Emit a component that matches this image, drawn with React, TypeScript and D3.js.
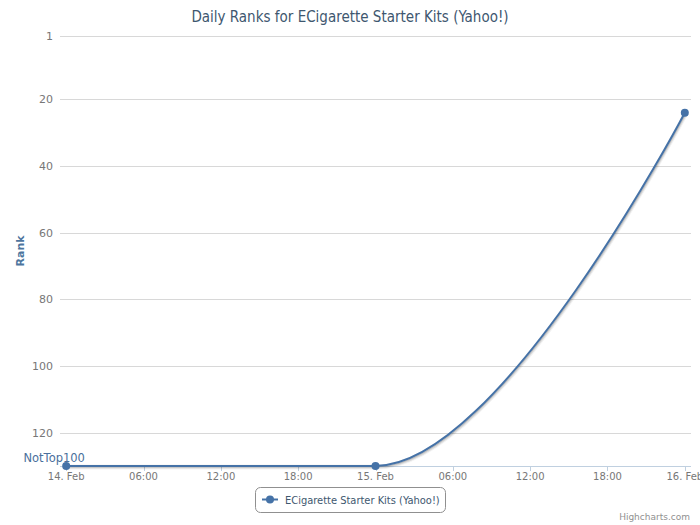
import React from "react";
import * as d3 from "d3";

// ---- data ----
const dates: string[] = ["2013-02-14", "2013-02-15", "2013-02-16"];
const ranks: number[] = [130, 130, 24]; // 130 = not in top 100
const yTicks: number[] = [1, 20, 40, 60, 80, 100, 120];
const yDomain: number[] = [1, 130];
const notTopLabel = "NotTop100";
const seriesName = "ECigarette Starter Kits (Yahoo!)";
const titleText = "Daily Ranks for ECigarette Starter Kits (Yahoo!)";
const yTitle = "Rank";
const credits = "Highcharts.com";

const W = 700;
const H = 525;
const plot = { left: 60, right: 691, top: 36, bottom: 466 };
const COLOR = "#4572A7";
const FONT = "'DejaVu Sans', Verdana, sans-serif";
const CFONT = "'DejaVu Sans Condensed', 'DejaVu Sans', sans-serif";

type P = { x: number; y: number; rcx?: number; rcy?: number };

function splinePath(pts: P[]): string {
  const smoothing = 1.5;
  const denom = smoothing + 1;
  const path = d3.path();
  pts.forEach((p, i) => {
    let lcx: number | undefined;
    let lcy: number | undefined;
    if (i > 0 && i < pts.length - 1) {
      const last = pts[i - 1];
      const next = pts[i + 1];
      lcx = (smoothing * p.x + last.x) / denom;
      lcy = (smoothing * p.y + last.y) / denom;
      const rcx = (smoothing * p.x + next.x) / denom;
      let rcy = (smoothing * p.y + next.y) / denom;
      const corr = ((rcy - lcy) * (rcx - p.x)) / (rcx - lcx) + p.y - rcy;
      lcy += corr;
      rcy += corr;
      if (lcy > last.y && lcy > p.y) {
        lcy = Math.max(last.y, p.y);
        rcy = 2 * p.y - lcy;
      } else if (lcy < last.y && lcy < p.y) {
        lcy = Math.min(last.y, p.y);
        rcy = 2 * p.y - lcy;
      }
      if (rcy > next.y && rcy > p.y) {
        rcy = Math.max(next.y, p.y);
        lcy = 2 * p.y - rcy;
      } else if (rcy < next.y && rcy < p.y) {
        rcy = Math.min(next.y, p.y);
        lcy = 2 * p.y - rcy;
      }
      p.rcx = rcx;
      p.rcy = rcy;
    }
    if (i === 0) path.moveTo(p.x, p.y);
    else {
      const last = pts[i - 1];
      path.bezierCurveTo(
        last.rcx ?? last.x,
        last.rcy ?? last.y,
        lcx ?? p.x,
        lcy ?? p.y,
        p.x,
        p.y
      );
    }
  });
  return path.toString();
}

export default function App() {
  const parsed = dates.map((d) => new Date(d + "T00:00:00Z"));
  const ext = d3.extent(parsed) as [Date, Date];
  const span = ext[1].getTime() - ext[0].getTime();
  const pad = span * 0.01;
  const x = d3
    .scaleUtc()
    .domain([new Date(ext[0].getTime() - pad), new Date(ext[1].getTime() + pad)])
    .range([plot.left, plot.right]);
  const y = d3.scaleLinear().domain(yDomain).range([plot.top, plot.bottom]);

  const xTicks = d3.utcHour.every(6)!.range(ext[0], new Date(ext[1].getTime() + 1));
  const fmtDay = d3.utcFormat("%-d. %b");
  const fmtHour = d3.utcFormat("%H:%M");
  const fmt = (d: Date) => (d.getUTCHours() === 0 ? fmtDay(d) : fmtHour(d));

  const pts: P[] = parsed.map((d, i) => ({ x: x(d), y: y(ranks[i]) }));
  const dPath = splinePath(pts);

  const legend = { x: 255, y: 487, w: 190, h: 25 };

  return (
    <svg
      width={W}
      height={H}
      style={{ position: "absolute", left: 0, top: 0, background: "#fff" }}
      fontFamily={FONT}
    >
      <rect x={0} y={0} width={W} height={H} fill="#fff" />
      <text x={W / 2} y={22} textAnchor="middle" fontSize={15} fill="#3E576F" fontFamily={CFONT}>
        {titleText}
      </text>

      {/* grid + y labels */}
      {yTicks.map((t) => (
        <g key={t}>
          <line x1={plot.left} x2={plot.right} y1={Math.round(y(t)) + 0.5} y2={Math.round(y(t)) + 0.5} stroke="#D8D8D8" strokeWidth={1} />
          <text x={plot.left - 7} y={y(t) + 4} textAnchor="end" fontSize={11} fill="#777">
            {t}
          </text>
        </g>
      ))}

      {/* x axis */}
      <line x1={plot.left} x2={plot.right} y1={plot.bottom + 0.5} y2={plot.bottom + 0.5} stroke="#C0D0E0" />
      {xTicks.map((t) => (
        <g key={t.getTime()}>
          <line x1={Math.round(x(t)) + 0.5} x2={Math.round(x(t)) + 0.5} y1={plot.bottom} y2={plot.bottom + 5} stroke="#C0D0E0" />
          <text x={x(t)} y={plot.bottom + 14} textAnchor="middle" fontSize={10} fill="#777">
            {fmt(t)}
          </text>
        </g>
      ))}

      <text
        transform={`translate(24,${(plot.top + plot.bottom) / 2}) rotate(-90)`}
        textAnchor="middle"
        fontSize={11}
        fontWeight="bold"
        fill="#4d759e"
      >
        {yTitle}
      </text>

      {/* series shadow */}
      {[1, 2, 3].map((i) => (
        <path
          key={i}
          d={dPath}
          fill="none"
          stroke="#000"
          strokeOpacity={0.05 * i}
          strokeWidth={2 * (3 - i) + 1}
          transform="translate(1,1)"
          strokeLinejoin="round"
        />
      ))}
      <path d={dPath} fill="none" stroke={COLOR} strokeWidth={2} strokeLinejoin="round" strokeLinecap="round" />
      {pts.map((p, i) => (
        <circle key={i} cx={p.x} cy={p.y} r={4} fill={COLOR} />
      ))}

      <text x={pts[0].x - 12} y={plot.bottom - 4} textAnchor="middle" fontSize={11.5} fill="#4a6f9c">
        {notTopLabel}
      </text>

      {/* legend */}
      <rect x={legend.x + 0.5} y={legend.y + 0.5} width={legend.w} height={legend.h} rx={5} fill="#fff" stroke="#909090" />
      <line x1={legend.x + 7} x2={legend.x + 23} y1={legend.y + 12.5} y2={legend.y + 12.5} stroke={COLOR} strokeWidth={2} />
      <circle cx={legend.x + 15} cy={legend.y + 12.5} r={4} fill={COLOR} />
      <text x={legend.x + 30} y={legend.y + 17} fontSize={11} fill="#3E576F" fontFamily={CFONT}>
        {seriesName}
      </text>

      <text x={690} y={520} textAnchor="end" fontSize={9} fill="#909090">
        {credits}
      </text>
    </svg>
  );
}
